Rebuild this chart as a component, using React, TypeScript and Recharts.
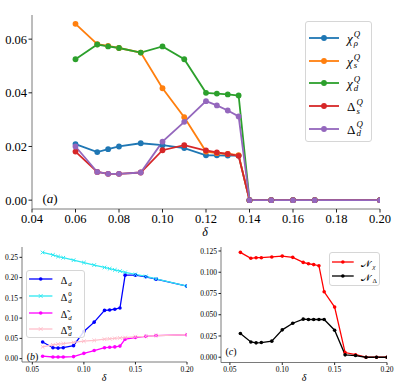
import React from 'react';
import { LineChart, Line, XAxis, YAxis } from 'recharts';

// ---------- data ----------
const topX = [0.06, 0.07, 0.075, 0.08, 0.09, 0.1, 0.11, 0.12, 0.125, 0.13, 0.135, 0.14, 0.15, 0.16, 0.17, 0.2];
const chiRho = [0.0209, 0.0179, 0.019, 0.02, 0.0212, 0.0205, 0.0194, 0.0167, 0.0167, 0.0166, 0.0166, 0, 0, 0, 0, 0];
const chiS = [0.0657, 0.0581, 0.0575, 0.0567, 0.055, 0.0417, 0.0309, 0.0181, 0.0175, 0.0172, 0.0168, 0, 0, 0, 0, 0];
const chiD = [0.0525, 0.058, 0.0573, 0.0567, 0.055, 0.0573, 0.0525, 0.04, 0.0397, 0.0394, 0.039, 0, 0, 0, 0, 0];
const deltaS = [0.0181, 0.0105, 0.0098, 0.0098, 0.0103, 0.0186, 0.0205, 0.0185, 0.0178, 0.0172, 0.0165, 0, 0, 0, 0, 0];
const deltaD = [0.02, 0.0105, 0.0098, 0.0098, 0.0103, 0.0218, 0.0292, 0.0369, 0.0353, 0.0334, 0.0312, 0, 0, 0, 0, 0];

const bX = [0.06, 0.07, 0.075, 0.08, 0.09, 0.1, 0.11, 0.12, 0.125, 0.13, 0.135, 0.14, 0.15, 0.16, 0.17, 0.2];
const bDeltaD = [0.041, 0.027, 0.026, 0.027, 0.032, 0.067, 0.09, 0.119, 0.12, 0.122, 0.125, 0.206, 0.206, 0.202, 0.196, 0.179];
const bDeltaD0 = [0.262, 0.256, 0.252, 0.249, 0.243, 0.237, 0.231, 0.225, 0.222, 0.219, 0.216, 0.213, 0.208, 0.203, 0.197, 0.179];
const bTildeD = [0.006, 0.004, 0.004, 0.004, 0.005, 0.013, 0.02, 0.027, 0.028, 0.029, 0.031, 0.048, 0.052, 0.055, 0.057, 0.059];
const bTildeD0 = [0.029, 0.034, 0.036, 0.037, 0.04, 0.043, 0.045, 0.048, 0.049, 0.05, 0.051, 0.052, 0.054, 0.055, 0.057, 0.059];

const cX = [0.06, 0.07, 0.075, 0.08, 0.09, 0.1, 0.11, 0.12, 0.125, 0.13, 0.135, 0.14, 0.15, 0.16, 0.17, 0.18, 0.19, 0.2];
const nChi = [0.1234, 0.1164, 0.1171, 0.1171, 0.118, 0.119, 0.1175, 0.1116, 0.11, 0.109, 0.1077, 0.077, 0.059, 0.0055, 0.003, 0, 0, 0];
const nDelta = [0.0279, 0.018, 0.0169, 0.0173, 0.0189, 0.0322, 0.04, 0.0448, 0.0444, 0.0444, 0.0444, 0.0444, 0.0318, 0.0028, 0.002, 0, 0, 0];

const topXTicks = [0.04, 0.06, 0.08, 0.1, 0.12, 0.14, 0.16, 0.18, 0.2];
const topYTicks = [0, 0.02, 0.04, 0.06];
const botXTicks = [0.05, 0.1, 0.15, 0.2];
const bYTicks = [0, 0.05, 0.1, 0.15, 0.2, 0.25];
const cYTicks = [0, 0.025, 0.05, 0.075, 0.1, 0.125];

const topData = topX.map((x, i) => ({ x, chiRho: chiRho[i], chiS: chiS[i], chiD: chiD[i], deltaS: deltaS[i], deltaD: deltaD[i] }));
const bData = bX.map((x, i) => ({ x, d: bDeltaD[i], d0: bDeltaD0[i], t: bTildeD[i], t0: bTildeD0[i] }));
const cData = cX.map((x, i) => ({ x, nChi: nChi[i], nDelta: nDelta[i] }));

const SERIF = '"Liberation Serif", "DejaVu Serif", serif';
const FRAME = '#7a7a7a';

type Lab = { base: string; italic?: boolean; sup?: string; supItalic?: boolean; sub?: string; subItalic?: boolean };

const topSeries: { key: string; color: string; label: Lab }[] = [
  { key: 'chiRho', color: '#1f77b4', label: { base: 'χ', italic: true, sup: 'Q', sub: 'ρ' } },
  { key: 'chiS', color: '#ff7f0e', label: { base: 'χ', italic: true, sup: 'Q', sub: 's' } },
  { key: 'chiD', color: '#2ca02c', label: { base: 'χ', italic: true, sup: 'Q', sub: 'd' } },
  { key: 'deltaS', color: '#d62728', label: { base: 'Δ', sup: 'Q', sub: 's' } },
  { key: 'deltaD', color: '#9467bd', label: { base: 'Δ', sup: 'Q', sub: 'd' } },
];

const bSeries: { key: string; color: string; marker: 'dot' | 'x'; label: Lab }[] = [
  { key: 'd', color: '#0000ff', marker: 'dot', label: { base: 'Δ', sub: 'd' } },
  { key: 'd0', color: '#2ee8f2', marker: 'x', label: { base: 'Δ', sup: '0', supItalic: false, sub: 'd' } },
  { key: 't', color: '#ff00ff', marker: 'dot', label: { base: 'Δ̃', sub: 'd' } },
  { key: 't0', color: '#ffbfcb', marker: 'x', label: { base: 'Δ̃', sup: '0', supItalic: false, sub: 'd' } },
];

const cSeries: { key: string; color: string; label: Lab }[] = [
  { key: 'nChi', color: '#ff0000', label: { base: '𝒩', sub: 'χ' } },
  { key: 'nDelta', color: '#000000', label: { base: '𝒩', sub: 'Δ', subItalic: false } },
];

// ---------- helpers ----------
function MathLabel({ lab, size }: { lab: Lab; size: number }) {
  const s = size * 0.68;
  return (
    <span style={{ display: 'inline-flex', alignItems: 'center', fontFamily: SERIF, fontSize: size, lineHeight: 1 }}>
      <span style={{ fontStyle: lab.italic ? 'italic' : 'normal' }}>{lab.base}</span>
      <span style={{ display: 'inline-flex', flexDirection: 'column', fontSize: s, lineHeight: 1, marginLeft: 1 }}>
        <span style={{ fontStyle: lab.supItalic === false ? 'normal' : 'italic', height: s, marginTop: -s * 0.35 }}>{lab.sup || '\u00a0'}</span>
        <span style={{ fontStyle: lab.subItalic === false ? 'normal' : 'italic', height: s, marginBottom: -s * 0.35 }}>{lab.sub || ''}</span>
      </span>
    </span>
  );
}

function Marker({ type, color, r }: { type: 'dot' | 'x'; color: string; r: number }) {
  if (type === 'x') {
    return <path d={`M${-r},${-r}L${r},${r}M${-r},${r}L${r},${-r}`} stroke={color} strokeWidth={1} fill="none" />;
  }
  return <circle r={r} fill={color} />;
}

function LegendBox(props: {
  left: number; top: number; width: number; height: number; padTop: number; rowH: number;
  lineOff: number; lineLen: number; gap: number; lineW: number; r: number; fontSize: number;
  items: { color: string; marker: 'dot' | 'x'; label: Lab }[];
}) {
  const p = props;
  return (
    <div style={{
      position: 'absolute', left: p.left, top: p.top, width: p.width, height: p.height, boxSizing: 'border-box',
      border: '1px solid #d6d6d6', borderRadius: 3, background: 'rgba(255,255,255,0.85)', paddingTop: p.padTop,
    }}>
      {p.items.map((it, i) => (
        <div key={i} style={{ height: p.rowH, display: 'flex', alignItems: 'center' }}>
          <svg width={p.lineLen} height={10} style={{ marginLeft: p.lineOff - 1, overflow: 'visible' }}>
            <line x1={0} x2={p.lineLen} y1={5} y2={5} stroke={it.color} strokeWidth={p.lineW} />
            <g transform={`translate(${p.lineLen / 2},5)`}><Marker type={it.marker} color={it.color} r={p.r} /></g>
          </svg>
          <span style={{ marginLeft: p.gap }}><MathLabel lab={it.label} size={p.fontSize} /></span>
        </div>
      ))}
    </div>
  );
}

function TextAt({ x, y, size, children, italic }: { x: number; y: number; size: number; children: React.ReactNode; italic?: boolean }) {
  return (
    <div style={{
      position: 'absolute', left: x, top: y, transform: 'translate(-50%,-50%)', fontFamily: SERIF, fontSize: size,
      lineHeight: 1, whiteSpace: 'nowrap', fontStyle: italic ? 'italic' : 'normal', color: '#000',
    }}>{children}</div>
  );
}

const xDot = (color: string, r: number) => (props: any) => {
  const { cx, cy, index } = props;
  if (cx == null || cy == null) return <g key={`n${index}`} />;
  return <path key={`x${index}`} d={`M${cx - r},${cy - r}L${cx + r},${cy + r}M${cx - r},${cy + r}L${cx + r},${cy - r}`} stroke={color} strokeWidth={1} fill="none" />;
};

function frameAxes(xDomain: [number, number]) {
  return [
    <XAxis key="ft" xAxisId="ft" orientation="top" dataKey="x" type="number" domain={xDomain} allowDataOverflow height={0} tick={false} tickLine={false} axisLine={{ stroke: FRAME, strokeWidth: 1 }} />,
    <YAxis key="fr" yAxisId="fr" orientation="right" type="number" domain={[0, 1]} width={0} tick={false} tickLine={false} axisLine={{ stroke: FRAME, strokeWidth: 1 }} />,
  ];
}

export default function App() {
  const topTick = { fontFamily: SERIF, fontSize: 12.5, fill: '#000' };
  const smallTick = { fontFamily: SERIF, fontSize: 7.5, fill: '#000' };
  return (
    <div style={{ position: 'absolute', left: 0, top: 0, width: 394, height: 386, background: '#fff', overflow: 'hidden' }}>
      <style>{`.recharts-cartesian-axis-tick-value, .recharts-text { font-family: "Liberation Serif", "DejaVu Serif", serif !important; }`}</style>
      {/* (a) */}
      <div style={{ position: 'absolute', left: 0, top: 0 }}>
        <LineChart width={394} height={240} data={topData} margin={{ top: 15, right: 14, bottom: 0, left: 0 }}>
          <XAxis dataKey="x" type="number" domain={[0.04, 0.2]} allowDataOverflow ticks={topXTicks} interval={0}
            tickFormatter={(v: number) => v.toFixed(2)} height={31} tick={topTick} tickSize={3.5} tickMargin={2}
            axisLine={{ stroke: FRAME }} tickLine={{ stroke: '#222' }} />
          <YAxis type="number" domain={[-0.0033, 0.069]} allowDataOverflow ticks={topYTicks} interval={0}
            tickFormatter={(v: number) => v.toFixed(2)} width={32} tick={topTick} tickSize={3.5} tickMargin={1.5}
            axisLine={{ stroke: FRAME }} tickLine={{ stroke: '#222' }} />
          {frameAxes([0.04, 0.2])}
          {topSeries.map((s) => (
            <Line key={s.key} dataKey={s.key} type="linear" stroke={s.color} strokeWidth={1.8}
              dot={{ r: 2.9, fill: s.color, stroke: s.color, strokeWidth: 0 }} activeDot={false} isAnimationActive={false} />
          ))}
        </LineChart>
      </div>
      <LegendBox left={305} top={21} width={67} height={121} padTop={5} rowH={22.6} lineOff={4} lineLen={30} gap={8}
        lineW={1.8} r={2.9} fontSize={13} items={topSeries.map((s) => ({ color: s.color, marker: 'dot' as const, label: s.label }))} />
      <TextAt x={50} y={197.5} size={13}>(<i>a</i>)</TextAt>
      <TextAt x={205} y={232} size={12}><i>δ</i></TextAt>

      {/* (b) */}
      <div style={{ position: 'absolute', left: 0, top: 240 }}>
        <LineChart width={197} height={146} data={bData} margin={{ top: 7, right: 10, bottom: 0, left: 0 }}>
          <XAxis dataKey="x" type="number" domain={[0.04, 0.2]} allowDataOverflow ticks={botXTicks} interval={0}
            tickFormatter={(v: number) => v.toFixed(2)} height={24} tick={smallTick} tickSize={2.5} tickMargin={1.8}
            axisLine={{ stroke: FRAME }} tickLine={{ stroke: '#222' }} />
          <YAxis type="number" domain={[-0.0083, 0.2755]} allowDataOverflow ticks={bYTicks} interval={0}
            tickFormatter={(v: number) => v.toFixed(2)} width={22} tick={smallTick} tickSize={2.5} tickMargin={1.5}
            axisLine={{ stroke: FRAME }} tickLine={{ stroke: '#222' }} />
          {frameAxes([0.04, 0.2])}
          {bSeries.map((s) => (
            <Line key={s.key} dataKey={s.key} type="linear" stroke={s.color} strokeWidth={1.3}
              dot={s.marker === 'x' ? xDot(s.color, 1.8) : { r: 1.8, fill: s.color, stroke: s.color, strokeWidth: 0 }}
              activeDot={false} isAnimationActive={false} />
          ))}
        </LineChart>
      </div>
      <LegendBox left={26} top={270} width={59} height={68} padTop={0} rowH={16.7} lineOff={3.3} lineLen={23.4} gap={8}
        lineW={1.3} r={1.8} fontSize={10} items={bSeries.map((s) => ({ color: s.color, marker: s.marker, label: s.label }))} />
      <TextAt x={32.5} y={356.5} size={10}>(<i>b</i>)</TextAt>
      <TextAt x={104} y={378} size={10}><i>δ</i></TextAt>

      {/* (c) */}
      <div style={{ position: 'absolute', left: 195, top: 240 }}>
        <LineChart width={199} height={146} data={cData} margin={{ top: 7, right: 7, bottom: 0, left: 0 }}>
          <XAxis dataKey="x" type="number" domain={[0.0415, 0.2]} allowDataOverflow ticks={botXTicks} interval={0}
            tickFormatter={(v: number) => v.toFixed(2)} height={23.5} tick={smallTick} tickSize={2.5} tickMargin={1.8}
            axisLine={{ stroke: FRAME }} tickLine={{ stroke: '#222' }} />
          <YAxis type="number" domain={[-0.0062, 0.1297]} allowDataOverflow ticks={cYTicks} interval={0}
            tickFormatter={(v: number) => v.toFixed(3)} width={26} tick={smallTick} tickSize={2.5} tickMargin={1.5}
            axisLine={{ stroke: FRAME }} tickLine={{ stroke: '#222' }} />
          {frameAxes([0.0415, 0.2])}
          {cSeries.map((s) => (
            <Line key={s.key} dataKey={s.key} type="linear" stroke={s.color} strokeWidth={1.3}
              dot={{ r: 1.8, fill: s.color, stroke: s.color, strokeWidth: 0 }} activeDot={false} isAnimationActive={false} />
          ))}
        </LineChart>
      </div>
      <LegendBox left={329} top={252} width={51} height={34} padTop={2} rowH={14} lineOff={3.3} lineLen={21.7} gap={7.5}
        lineW={1.3} r={1.8} fontSize={10} items={cSeries.map((s) => ({ color: s.color, marker: 'dot' as const, label: s.label }))} />
      <TextAt x={231} y={352} size={10}>(<i>c</i>)</TextAt>
      <TextAt x={304} y={378} size={10}><i>δ</i></TextAt>
    </div>
  );
}
